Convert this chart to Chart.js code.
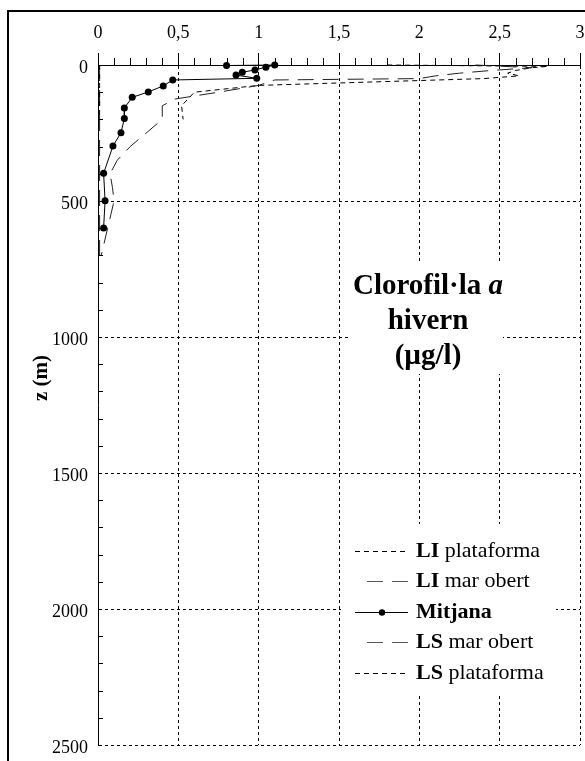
<!DOCTYPE html>
<html>
<head>
<meta charset="utf-8">
<script src="https://cdn.jsdelivr.net/npm/chart.js@4.4.0/dist/chart.umd.min.js"></script>
<style>
  body { margin: 0; background: #fff; }
  canvas { display: block; }
</style>
</head>
<body>
<canvas id="myChart" width="585" height="761"></canvas>
<script>
// Clorofil·la a a l'hivern: perfil mitjà i límits (LI / LS)

const xTicks = [0, 0.5, 1, 1.5, 2, 2.5, 3]
const yTicks = [0, 500, 1000, 1500, 2000, 2500]

const depthMitjana = [2, 0, 8, 18, 27, 37, 49, 55, 77, 99, 119, 158, 197, 249, 298, 398, 499, 599]
const mitjana = [0.80, 1.10, 1.045, 0.977, 0.898, 0.859, 0.988, 0.465, 0.406, 0.313, 0.213, 0.164, 0.164, 0.143, 0.093, 0.035, 0.044, 0.035]

const depthPlataforma = [0, 5, 10, 20, 30, 40, 50, 75, 100, 150, 200]
const liPlataforma = [0.01, 0.01, 0.01, 0.01, 0.01, 0.01, 0.01, 0.01, 0.01, 0.01, 0.01]
const lsPlataforma = [1.80, 2.80, 2.70, 2.60, 2.55, 2.62, 2.40, 1.00, 0.60, 0.52, 0.53]

const depthMarObert = [0, 10, 20, 30, 40, 50, 55, 75, 100, 125, 150, 200, 250, 300, 350, 400, 450, 500, 550, 600, 700]
const liMarObert = [0.01, 0.01, 0.01, 0.01, 0.01, 0.01, 0.01, 0.01, 0.01, 0.01, 0.01, 0.01, 0.01, 0.01, 0.01, 0.01, 0.01, 0.01, 0.01, 0.01, 0.01]
const lsMarObert = [2.35, 2.70, 2.45, 2.25, 2.10, 2.00, 1.10, 1.00, 0.75, 0.48, 0.40, 0.40, 0.30, 0.20, 0.12, 0.075, 0.09, 0.10, 0.08, 0.06, 0.02]

const serif = "'Liberation Serif', 'Times New Roman', serif"
const shortDash = [5, 4]
const longDash = [16, 9]

function pts(xs, ys) {
  return xs.map((v, i) => ({ x: v, y: ys[i] }))
}

function lineSet(label, xs, ys, dash, color) {
  return {
    label: label,
    data: pts(xs, ys),
    borderColor: color,
    borderWidth: 1,
    borderDash: dash,
    pointRadius: 0,
    fill: false,
    tension: 0,
    clip: false
  }
}

// fixed axis sizes, no extra label padding
function fixScale(s, w, h) {
  if (w) s.width = w
  if (h) s.height = h
  s.paddingLeft = 0
  s.paddingRight = 0
  s.paddingTop = 0
  s.paddingBottom = 0
}

const extras = {
  id: 'extras',
  beforeDraw(chart) {
    const ctx = chart.ctx
    ctx.save()
    ctx.fillStyle = '#fff'
    ctx.fillRect(0, 0, chart.width, chart.height)
    ctx.strokeStyle = '#000'
    ctx.lineWidth = 2
    ctx.strokeRect(8, 11, chart.width + 20, chart.height + 20)
    ctx.restore()
  },
  afterDraw(chart) {
    const ctx = chart.ctx
    const xs = chart.scales.x
    const ys = chart.scales.y
    const area = chart.chartArea
    ctx.save()
    ctx.strokeStyle = '#000'
    ctx.lineWidth = 1

    // minor ticks
    ctx.beginPath()
    for (let i = 1; i < 30; i++) {
      if (i % 5 === 0) continue
      const px = Math.round(xs.getPixelForValue(i / 10)) + 0.5
      ctx.moveTo(px, area.top)
      ctx.lineTo(px, area.top - 7)
    }
    for (let i = 1; i < 25; i++) {
      if (i % 5 === 0) continue
      const py = Math.round(ys.getPixelForValue(i * 100)) + 0.5
      ctx.moveTo(area.left, py)
      ctx.lineTo(area.left + 5, py)
    }
    ctx.stroke()

    // axis title
    ctx.fillStyle = '#000'
    ctx.font = 'bold 21px ' + serif
    ctx.textAlign = 'center'
    ctx.textBaseline = 'middle'
    ctx.translate(42, 378)
    ctx.rotate(-Math.PI / 2)
    ctx.fillText('z (m)', 0, 0)
    ctx.setTransform(1, 0, 0, 1, 0, 0)

    // title box
    ctx.fillStyle = '#fff'
    ctx.fillRect(349, 264, 154, 110)
    ctx.fillStyle = '#000'
    ctx.textBaseline = 'middle'
    ctx.textAlign = 'left'
    const cx = 428
    const tf = '29px ' + serif
    ctx.font = 'bold ' + tf
    const w1 = ctx.measureText('Clorofil·la ').width
    ctx.font = 'italic bold ' + tf
    const w2 = ctx.measureText('a').width
    const sx = cx - (w1 + w2) / 2
    ctx.font = 'bold ' + tf
    ctx.fillText('Clorofil·la ', sx, 287)
    ctx.font = 'italic bold ' + tf
    ctx.fillText('a', sx + w1, 287)
    ctx.font = 'bold ' + tf
    ctx.textAlign = 'center'
    ctx.fillText('hivern', cx, 322)
    ctx.fillText('(µg/l)', cx, 357)

    // legend
    ctx.fillStyle = '#fff'
    ctx.fillRect(341, 524, 215, 170)
    const rows = [551, 581, 612, 642, 673]
    chart.data.datasets.forEach((ds, i) => {
      const y = rows[i] + 0.5
      ctx.strokeStyle = ds.borderDash === longDash ? '#555' : '#000'
      ctx.lineWidth = 1
      ctx.setLineDash(ds.borderDash || [])
      ctx.beginPath()
      ctx.moveTo(ds.borderDash === longDash ? 367 : 355, y)
      ctx.lineTo(408, y)
      ctx.stroke()
      ctx.setLineDash([])
      if (ds.pointRadius > 0) {
        ctx.fillStyle = '#000'
        ctx.beginPath()
        ctx.arc(382, y, 3.2, 0, Math.PI * 2)
        ctx.fill()
      }
      ctx.fillStyle = '#000'
      ctx.textAlign = 'left'
      ctx.textBaseline = 'middle'
      let tx = 416
      const words = ds.label.split(' ')
      if (ds.label === 'Mitjana') {
        ctx.font = 'bold 22px ' + serif
        ctx.fillText(ds.label, tx, rows[i])
      } else {
        ctx.font = 'bold 22px ' + serif
        ctx.fillText(words[0], tx, rows[i])
        tx += ctx.measureText(words[0]).width
        ctx.font = '22px ' + serif
        ctx.fillText(' ' + words.slice(1).join(' '), tx, rows[i])
      }
    })
    ctx.restore()
  }
}

const ctx = document.getElementById('myChart')

new Chart(ctx, {
  type: 'line',
  data: {
    datasets: [
      lineSet('LI plataforma', liPlataforma, depthPlataforma, shortDash, '#000'),
      lineSet('LI mar obert', liMarObert, depthMarObert, longDash, '#222'),
      {
        label: 'Mitjana',
        data: pts(mitjana, depthMitjana),
        borderColor: '#000',
        backgroundColor: '#000',
        borderWidth: 1,
        pointRadius: 3.5,
        pointBackgroundColor: '#000',
        pointBorderWidth: 0,
        tension: 0,
        clip: false
      },
      lineSet('LS mar obert', lsMarObert, depthMarObert, longDash, '#222'),
      lineSet('LS plataforma', lsPlataforma, depthPlataforma, shortDash, '#000')
    ]
  },
  options: {
    responsive: false,
    animation: false,
    devicePixelRatio: 1,
    layout: { padding: { left: 0, top: 0, right: 5, bottom: 16 } },
    plugins: {
      legend: { display: false },
      tooltip: { enabled: false }
    },
    scales: {
      x: {
        type: 'linear',
        position: 'top',
        min: 0,
        max: 3,
        afterBuildTicks: (s) => { s.ticks = xTicks.map(v => ({ value: v })) },
        afterFit: (s) => fixScale(s, 0, 65),
        ticks: {
          color: '#000',
          font: { family: serif, size: 18 },
          padding: 9,
          maxRotation: 0,
          callback: (v) => String(v).replace('.', ',')
        },
        grid: {
          color: '#000',
          lineWidth: 1,
          drawTicks: true,
          tickLength: 12,
          tickColor: '#000',
          tickBorderDash: []
        },
        border: { display: true, color: '#000', width: 1, dash: [3, 3] }
      },
      y: {
        type: 'linear',
        reverse: true,
        min: 0,
        max: 2500,
        afterBuildTicks: (s) => { s.ticks = yTicks.map(v => ({ value: v })) },
        afterFit: (s) => fixScale(s, 98, 0),
        ticks: {
          color: '#000',
          font: { family: serif, size: 18 },
          padding: 10,
          labelOffset: 3,
          callback: (v) => String(v)
        },
        grid: {
          color: '#000',
          lineWidth: 1,
          drawTicks: false
        },
        border: { display: true, color: '#000', width: 1, dash: [3, 3] }
      }
    }
  },
  plugins: [extras]
})
</script>
</body>
</html>
